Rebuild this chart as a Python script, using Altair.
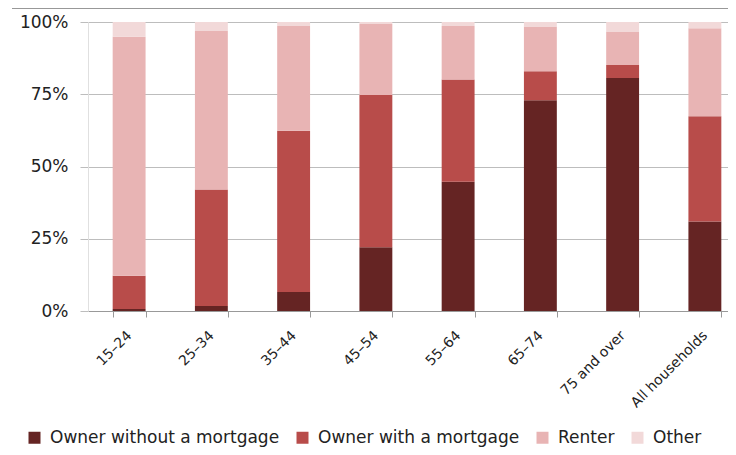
import altair as alt
import pandas as pd

categories = ["15–24", "25–34", "35–44", "45–54", "55–64", "65–74", "75 and over", "All households"]
tenures = ["Owner without a mortgage", "Owner with a mortgage", "Renter", "Other"]
colors = ["#652423", "#b84c4a", "#e8b4b4", "#f2d9d9"]

owner_no_mortgage = [0.7, 1.7, 6.6, 22.1, 44.7, 72.9, 80.6, 31.0]
owner_mortgage = [11.5, 40.3, 55.8, 52.6, 35.4, 10.1, 4.5, 36.4]
renter = [82.7, 54.9, 36.2, 24.6, 18.5, 15.4, 11.6, 30.4]
other = [5.1, 3.1, 1.4, 0.7, 1.4, 1.6, 3.3, 2.2]

series = [owner_no_mortgage, owner_mortgage, renter, other]
rows = []
for ti, (t, vals) in enumerate(zip(tenures, series)):
    for c, v in zip(categories, vals):
        rows.append({"category": c, "tenure": t, "value": v, "order": ti})
df = pd.DataFrame(rows)

FONT = "DejaVu Sans"

bars = alt.Chart(df).mark_bar().encode(
    x=alt.X("category:N", sort=categories, title=None,
            scale=alt.Scale(paddingInner=0.6, paddingOuter=0.3, range=[0, 658]),
            axis=alt.Axis(labelAngle=-45, labelFontSize=14, labelFont=FONT,
                          labelColor="#222", domainColor="#999", tickColor="#999",
                          tickBand="extent", tickSize=6, labelAlign="right",
                          labelBaseline="middle", labelPadding=16, grid=False)),
    y=alt.Y("value:Q", title=None, stack="zero",
            scale=alt.Scale(domain=[0, 100], nice=False),
            axis=alt.Axis(values=[0, 25, 50, 75, 100], labelExpr="datum.value + '%'",
                          labelFontSize=17, labelFont=FONT, labelColor="#222",
                          gridColor="#bdbdbd", tickColor="#bdbdbd", tickSize=8,
                          domainColor="#e0e0e0", labelPadding=12)),
    color=alt.Color("tenure:N", sort=tenures,
                    scale=alt.Scale(domain=tenures, range=colors),
                    legend=alt.Legend(title=None, orient="none", direction="horizontal",
                                      legendX=-62, legendY=407,
                                      symbolType="square", symbolSize=144,
                                      symbolStrokeWidth=0, labelLimit=0,
                                      labelFontSize=17, labelFont=FONT, labelColor="#222",
                                      columnPadding=14, labelOffset=7)),
    order=alt.Order("order:Q", sort="ascending"),
)

top_line = alt.Chart(df).mark_rule(color="#999", strokeWidth=1.5).encode(
    x=alt.value(-76), x2=alt.value(700), y=alt.value(-14)
)

chart = alt.layer(bars, top_line).properties(
    width=640, height=289,
    padding={"left": 80, "top": 14, "right": 0, "bottom": 136},
    autosize=alt.AutoSizeParams(type="none"),
).configure_view(stroke=None)

chart.save("out.html", embed_options={"renderer": "svg", "actions": False})
